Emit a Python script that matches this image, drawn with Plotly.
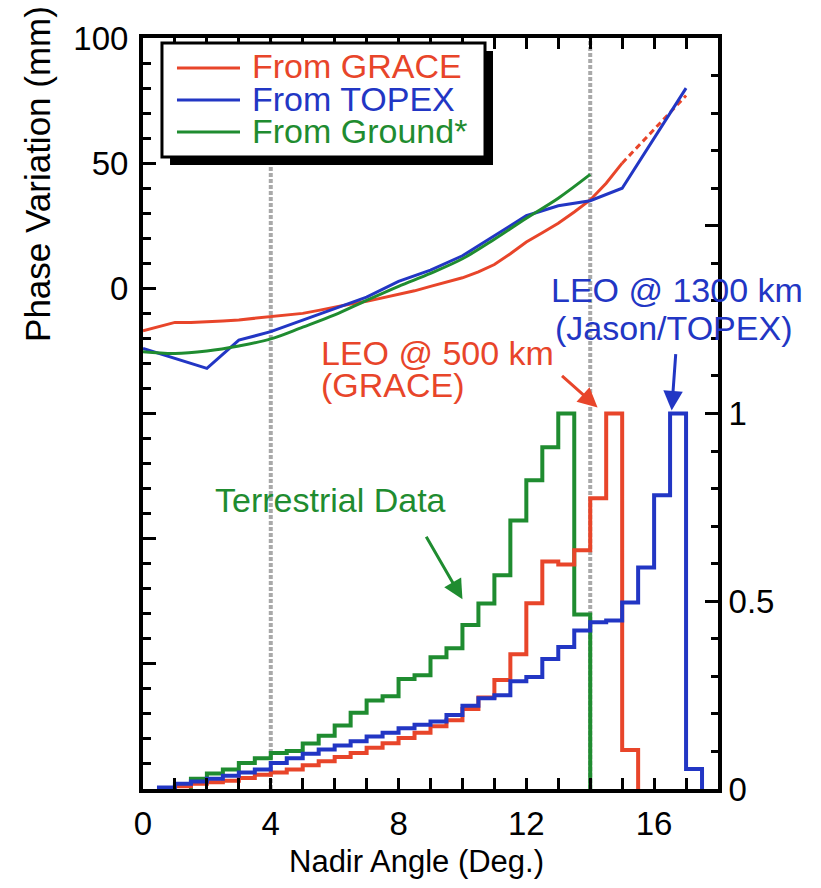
import numpy as np
import plotly.graph_objects as go

# ---------------- data ----------------
# Phase variation curves (mm) vs nadir angle (deg)
grace_angle = [0, 0.5, 1, 1.5, 2, 2.5, 3, 3.5, 4, 4.5, 5, 5.5, 6, 6.5, 7, 7.5, 8, 8.5,
               9, 9.5, 10, 10.5, 11, 11.5, 12, 12.5, 13, 13.5, 14, 14.5, 15]
grace_phase = [-17, -15.2, -13.6, -13.6, -13.4, -13.0, -12.6, -12.0, -11.3, -10.7, -10.0,
               -8.8, -7.4, -6.3, -5.2, -3.8, -2.6, -1.0, 0.8, 2.5, 4.2, 6.6, 9.5, 13.8,
               18.5, 22.2, 26.0, 30.5, 35.3, 42.0, 50.0]
grace_ext_angle = [15, 16, 17]
grace_ext_phase = [50.0, 63.5, 77.0]

topex_angle = list(range(0, 18))
topex_phase = [-24, -28, -32, -20.7, -17.3, -12.7, -8.2, -3.5, 2.8, 7.3, 13, 21, 29, 33,
               35, 40, 60, 80]

ground_angle = list(range(0, 15))
ground_phase = [-25.3, -26, -25, -23, -20.2, -15.5, -10.6, -4.8, 0.8, 6, 11.8, 19.6, 28,
                36, 45.5]

# Normalised nadir-angle histograms (0.5 deg bins)
bin_width = 0.5
grace_hist_start = 1.0
grace_hist = [0.007, 0.014, 0.018, 0.022, 0.029, 0.038, 0.044, 0.052, 0.063, 0.074, 0.085,
              0.096, 0.110, 0.122, 0.136, 0.150, 0.167, 0.183, 0.213, 0.244, 0.290, 0.359,
              0.495, 0.606, 0.598, 0.636, 0.774, 1.0, 0.104]
topex_hist_start = 0.5
topex_hist = [0.004, 0.014, 0.020, 0.027, 0.035, 0.044, 0.052, 0.069, 0.082, 0.094, 0.105,
              0.116, 0.127, 0.140, 0.150, 0.162, 0.171, 0.180, 0.197, 0.222, 0.242, 0.250,
              0.287, 0.298, 0.346, 0.378, 0.422, 0.444, 0.449, 0.497, 0.590, 0.782, 1.0,
              0.053]
ground_hist_start = 1.5
ground_hist = [0.027, 0.041, 0.052, 0.069, 0.082, 0.096, 0.101, 0.121, 0.142, 0.169, 0.203,
               0.236, 0.247, 0.293, 0.303, 0.351, 0.375, 0.437, 0.494, 0.569, 0.715, 0.822,
               0.910, 1.0, 0.465]

x_ticks = [0, 4, 8, 12, 16]
y_ticks = [-200, -150, -100, -50, 0, 50, 100]
y_ticktext = ["", "", "", "", "0", "50", "100"]
y2_ticks = [0, 0.5, 1, 1.5, 2]
y2_ticktext = ["0", "0.5", "1", "", ""]
ref_angles = [4, 14]

RED = "#e8452a"
BLUE = "#2236c4"
GREEN = "#1f8c30"
FONT = "Liberation Sans, Arial, Helvetica, sans-serif"


def step_outline(start, heights):
    edges = start + bin_width * np.arange(len(heights) + 1)
    xs = [edges[0]] + list(edges[:-1]) + [edges[-1]]
    ys = [0] + list(heights) + [0]
    return xs, ys


fig = go.Figure()

# histograms on the right axis
for start, h, col in [(ground_hist_start, ground_hist, GREEN),
                      (grace_hist_start, grace_hist, RED),
                      (topex_hist_start, topex_hist, BLUE)]:
    xs, ys = step_outline(start, h)
    fig.add_trace(go.Scatter(x=xs, y=ys, yaxis="y2", mode="lines", line_shape="hv",
                             line=dict(color=col, width=4), showlegend=False,
                             hoverinfo="skip"))

# phase curves on the left axis
fig.add_trace(go.Scatter(x=grace_angle, y=grace_phase, mode="lines",
                         line=dict(color=RED, width=3), showlegend=False))
fig.add_trace(go.Scatter(x=grace_ext_angle, y=grace_ext_phase, mode="lines",
                         line=dict(color=RED, width=3, dash="6px,4px"), showlegend=False))
fig.add_trace(go.Scatter(x=topex_angle, y=topex_phase, mode="lines",
                         line=dict(color=BLUE, width=3), showlegend=False))
fig.add_trace(go.Scatter(x=ground_angle, y=ground_phase, mode="lines", line_shape="spline",
                         line=dict(color=GREEN, width=3), showlegend=False))

shapes = []
for a in ref_angles:
    shapes.append(dict(type="line", xref="x", yref="paper", x0=a, x1=a, y0=0, y1=1,
                       line=dict(color="#a9a9a9", width=4, dash="4px,2px"), layer="below"))

# legend box with drop shadow (paper coords)
shapes.append(dict(type="rect", xref="paper", yref="paper", x0=0.047, x1=0.6087,
                   y0=0.8309, y1=0.9827, fillcolor="black", line=dict(width=0),
                   layer="above"))
shapes.append(dict(type="rect", xref="paper", yref="paper", x0=0.033, x1=0.5948,
                   y0=0.8415, y1=0.9933, fillcolor="white",
                   line=dict(color="black", width=3), layer="above"))
legend_items = [("From GRACE", RED, 0.9601), ("From TOPEX", BLUE, 0.9174),
                ("From Ground*", GREEN, 0.8748)]
annotations = []
for name, col, yp in legend_items:
    shapes.append(dict(type="line", xref="paper", yref="paper", x0=0.0591, x1=0.1687,
                       y0=yp, y1=yp, line=dict(color=col, width=3), layer="above"))
    annotations.append(dict(xref="paper", yref="paper", x=0.1861, y=yp + 0.002, text=name,
                            showarrow=False, xanchor="left", yanchor="middle",
                            font=dict(family=FONT, size=34, color=col)))

# text labels
annotations += [
    dict(xref="x", yref="y2", x=16.72, y=1.329, text="LEO @ 1300 km", showarrow=False,
         xanchor="center", yanchor="middle", font=dict(family=FONT, size=34, color=BLUE)),
    dict(xref="x", yref="y2", x=16.6, y=1.229, text="(Jason/TOPEX)", showarrow=False,
         xanchor="center", yanchor="middle", font=dict(family=FONT, size=34, color=BLUE)),
    dict(xref="x", yref="y2", x=5.5, y=1.162, text="LEO @ 500 km", showarrow=False,
         xanchor="left", yanchor="middle", font=dict(family=FONT, size=34, color=RED)),
    dict(xref="x", yref="y2", x=5.5, y=1.075, text="(GRACE)", showarrow=False,
         xanchor="left", yanchor="middle", font=dict(family=FONT, size=34, color=RED)),
    dict(xref="x", yref="y2", x=2.2, y=0.770, text="Terrestrial Data", showarrow=False,
         xanchor="left", yanchor="middle", font=dict(family=FONT, size=34, color=GREEN)),
]
# arrows
for hx, hy, tx, ty, col in [(14.23, 1.016, 13.07, 1.104, RED),
                            (16.55, 1.008, 16.68, 1.162, BLUE),
                            (10.0, 0.505, 8.84, 0.676, GREEN)]:
    annotations.append(dict(xref="x", yref="y2", x=hx, y=hy, axref="x", ayref="y2",
                            ax=tx, ay=ty, text="", showarrow=True, arrowhead=2,
                            arrowsize=1.3, arrowwidth=3, arrowcolor=col))

# axis titles
annotations.append(dict(xref="paper", yref="paper", x=-0.1826, y=0.819,
                        text="Phase Variation (mm)", textangle=-90, showarrow=False,
                        xanchor="center", yanchor="middle",
                        font=dict(family=FONT, size=35, color="black")))
annotations.append(dict(xref="paper", yref="paper", x=0.4765, y=-0.0959,
                        text="Nadir Angle (Deg.)", showarrow=False,
                        xanchor="center", yanchor="middle",
                        font=dict(family=FONT, size=31, color="black")))

tickfont = dict(family=FONT, size=33, color="black")
fig.update_layout(
    width=821, height=888,
    margin=dict(l=143, r=103, t=38, b=99),
    paper_bgcolor="white", plot_bgcolor="white",
    showlegend=False,
    shapes=shapes, annotations=annotations,
    xaxis=dict(range=[0, 18], tickmode="array", tickvals=x_ticks, ticks="inside",
               ticklen=11, tickwidth=3, tickcolor="black", showline=True, linewidth=4,
               linecolor="black", mirror="allticks", showgrid=False, zeroline=False,
               tickfont=tickfont, ticklabelstandoff=2,
               minor=dict(dtick=1, tick0=0, ticks="inside", ticklen=8, tickwidth=3,
                          tickcolor="black", showgrid=False)),
    yaxis=dict(range=[-200, 100], tickmode="array", tickvals=y_ticks,
               ticktext=y_ticktext, ticks="inside", ticklen=13, tickwidth=3,
               tickcolor="black", showline=True, linewidth=4, linecolor="black",
               showgrid=False, zeroline=False, tickfont=tickfont, ticklabelstandoff=4,
               minor=dict(dtick=10, tick0=0, ticks="inside", ticklen=8, tickwidth=3,
                          tickcolor="black", showgrid=False)),
    yaxis2=dict(range=[0, 2], overlaying="y", side="right", tickmode="array",
                tickvals=y2_ticks, ticktext=y2_ticktext, ticks="inside", ticklen=13,
                tickwidth=3, tickcolor="black", showline=True, linewidth=4,
                linecolor="black", showgrid=False, zeroline=False, tickfont=tickfont,
                minor=dict(dtick=0.1, tick0=0, ticks="inside", ticklen=7, tickwidth=3,
                           tickcolor="black", showgrid=False)),
)

fig.write_html("out.html")
